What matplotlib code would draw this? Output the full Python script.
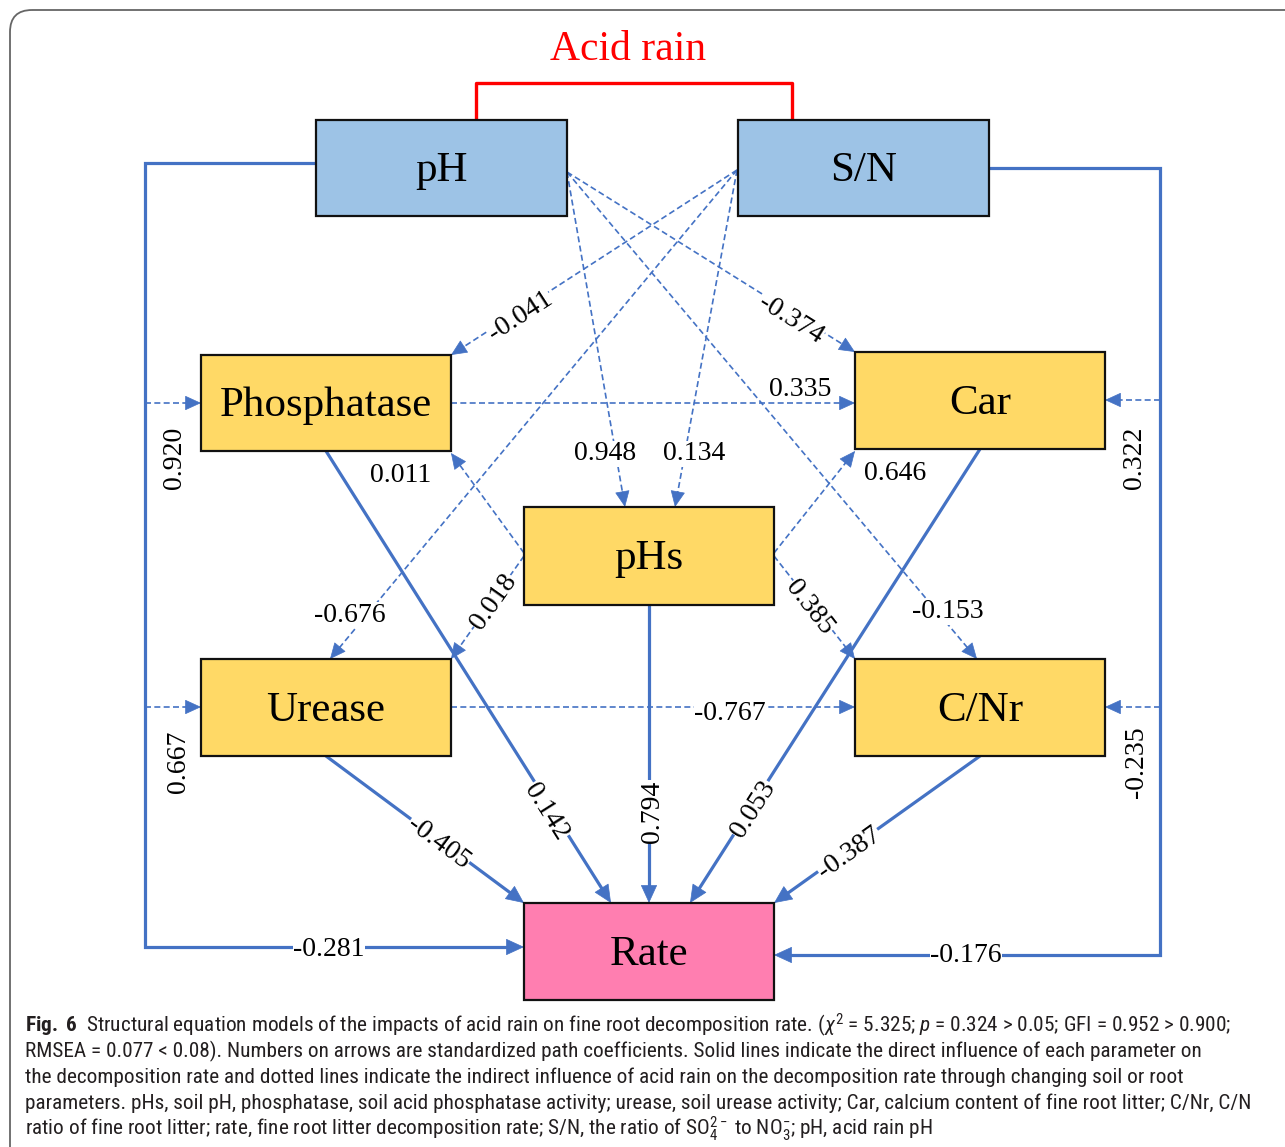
import numpy as np
import matplotlib
matplotlib.use('Agg')
import matplotlib.pyplot as plt
from matplotlib import font_manager
from matplotlib.patches import Rectangle, FancyBboxPatch, FancyArrowPatch


# Nodes of the structural equation model
node_names = ['pH', 'S/N', 'Phosphatase', 'Car', 'pHs', 'Urease', 'C/Nr', 'Rate']
node_group = ['rain', 'rain', 'soil', 'soil', 'soil', 'soil', 'soil', 'rate']

# Paths: source, target, standardized coefficient, direct (solid) or indirect (dashed)
path_from = ['pH', 'S/N', 'pH', 'pH', 'S/N', 'S/N', 'pH', 'S/N', 'pH', 'pH', 'S/N', 'S/N',
             'Phosphatase', 'Urease', 'pHs', 'pHs', 'pHs', 'pHs',
             'Phosphatase', 'Urease', 'pHs', 'Car', 'C/Nr']
path_to = ['Rate', 'Rate', 'Phosphatase', 'Urease', 'Car', 'C/Nr', 'pHs', 'pHs', 'Car', 'C/Nr',
           'Phosphatase', 'Urease',
           'Car', 'C/Nr', 'Phosphatase', 'Urease', 'Car', 'C/Nr',
           'Rate', 'Rate', 'Rate', 'Rate', 'Rate']
path_coef = [-0.281, -0.176, 0.920, 0.667, 0.322, -0.235, 0.948, 0.134, -0.374, -0.153,
             -0.041, -0.676,
             0.335, -0.767, 0.011, 0.018, 0.646, 0.385,
             0.142, -0.405, 0.794, 0.053, -0.387]
path_direct = [True, True] + [False] * 16 + [True] * 5

title_text = 'Acid rain'
caption_lines = [
    r'$\mathbf{Fig.\ 6}$  Structural equation models of the impacts of acid rain on fine root '
    r'decomposition rate. ($\chi^2$ = 5.325; $p$ = 0.324 > 0.05; GFI = 0.952 > 0.900;',
    'RMSEA = 0.077 < 0.08). Numbers on arrows are standardized path coefficients. Solid lines '
    'indicate the direct influence of each parameter on',
    'the decomposition rate and dotted lines indicate the indirect influence of acid rain on the '
    'decomposition rate through changing soil or root',
    'parameters. pHs, soil pH, phosphatase, soil acid phosphatase activity; urease, soil urease '
    'activity; Car, calcium content of fine root litter; C/Nr, C/N',
    r'ratio of fine root litter; rate, fine root litter decomposition rate; S/N, the ratio of '
    r'SO$_4^{2-}$ to NO$_3^{-}$; pH, acid rain pH',
]

# Layout (pixel coordinates, y grows downward)
node_box = {
    'pH': (316, 120, 567, 216),
    'S/N': (738, 120, 989, 216),
    'Phosphatase': (201, 355, 451, 451),
    'Car': (855, 352, 1105, 449),
    'pHs': (524, 507, 774, 605),
    'Urease': (201, 659, 451, 756),
    'C/Nr': (855, 659, 1105, 756),
    'Rate': (524, 903, 774, 1000),
}
group_color = {'rain': '#9DC3E6', 'soil': '#FFD966', 'rate': '#FF7EB0'}

routes = {
    ('pH', 'Rate'): [(316, 163), (145, 163), (145, 947), (524, 947)],
    ('S/N', 'Rate'): [(989, 168), (1160, 168), (1160, 955), (774, 955)],
    ('pH', 'Phosphatase'): [(145, 403), (201, 403)],
    ('pH', 'Urease'): [(145, 707), (201, 707)],
    ('S/N', 'Car'): [(1160, 400), (1105, 400)],
    ('S/N', 'C/Nr'): [(1160, 707), (1105, 707)],
    ('pH', 'pHs'): [(567, 172), (625, 507)],
    ('S/N', 'pHs'): [(737, 170), (675, 507)],
    ('pH', 'Car'): [(567, 172), (855, 352)],
    ('pH', 'C/Nr'): [(567, 172), (977, 659)],
    ('S/N', 'Phosphatase'): [(737, 170), (451, 355)],
    ('S/N', 'Urease'): [(737, 170), (330, 659)],
    ('Phosphatase', 'Car'): [(451, 403), (855, 403)],
    ('Urease', 'C/Nr'): [(451, 707), (855, 707)],
    ('pHs', 'Phosphatase'): [(524, 553), (451, 453)],
    ('pHs', 'Urease'): [(524, 556), (451, 659)],
    ('pHs', 'Car'): [(774, 553), (855, 451)],
    ('pHs', 'C/Nr'): [(774, 556), (855, 659)],
    ('Phosphatase', 'Rate'): [(326, 451), (611, 903)],
    ('Urease', 'Rate'): [(326, 756), (524, 903)],
    ('pHs', 'Rate'): [(649, 605), (649, 903)],
    ('Car', 'Rate'): [(980, 449), (690, 903)],
    ('C/Nr', 'Rate'): [(980, 756), (774, 903)],
}

# label x, y, rotation ('line' = along the path), white background
label_pos = {
    ('pH', 'Rate'): (329, 946, 0, True),
    ('S/N', 'Rate'): (966, 953, 0, True),
    ('pH', 'Phosphatase'): (172, 458, 90, False),
    ('pH', 'Urease'): (175, 762, 90, False),
    ('S/N', 'Car'): (1132, 458, 90, False),
    ('S/N', 'C/Nr'): (1134, 762, 90, False),
    ('pH', 'pHs'): (605, 451, 0, True),
    ('S/N', 'pHs'): (694, 451, 0, True),
    ('pH', 'Car'): (792, 317, 'line', True),
    ('pH', 'C/Nr'): (948, 609, 0, True),
    ('S/N', 'Phosphatase'): (519, 314, 'line', True),
    ('S/N', 'Urease'): (350, 612, 0, True),
    ('Phosphatase', 'Car'): (800, 386, 0, False),
    ('Urease', 'C/Nr'): (730, 711, 0, True),
    ('pHs', 'Phosphatase'): (401, 472, 0, False),
    ('pHs', 'Urease'): (491, 600, 'line', True),
    ('pHs', 'Car'): (895, 470, 0, False),
    ('pHs', 'C/Nr'): (812, 606, 'line', True),
    ('Phosphatase', 'Rate'): (549, 810, 'line', True),
    ('Urease', 'Rate'): (440, 841, 'line', True),
    ('pHs', 'Rate'): (649, 812, 90, True),
    ('Car', 'Rate'): (751, 808, 'line', True),
    ('C/Nr', 'Rate'): (848, 851, 'line', True),
}

LINE_BLUE = '#4472C4'
SERIF = 'Liberation Serif'


# Arrow head at the end of a path
def draw_head(ax, p0, p1, solid):
    p0 = np.array(p0, float)
    p1 = np.array(p1, float)
    u = (p1 - p0) / np.linalg.norm(p1 - p0)
    hl, hw = (12, 5.5) if solid else (10.5, 4.8)
    arrow = FancyArrowPatch(posA=p1 - u * hl * 1.5, posB=p1,
                            arrowstyle=f'-|>,head_length={hl},head_width={hw}',
                            mutation_scale=1, color=LINE_BLUE, lw=0.5,
                            shrinkA=0, shrinkB=0, zorder=3)
    ax.add_patch(arrow)


# One path: line, arrow head, coefficient label
def draw_path(ax, src, dst, coef, direct):
    pts = np.array(routes[(src, dst)], float)
    u = pts[-1] - pts[-2]
    u /= np.linalg.norm(u)
    line_pts = pts.copy()
    line_pts[-1] = pts[-1] - u * 8
    if direct:
        ax.plot(line_pts[:, 0], line_pts[:, 1], color=LINE_BLUE, lw=2.3,
                solid_joinstyle='miter', zorder=2)
    else:
        ax.plot(line_pts[:, 0], line_pts[:, 1], color=LINE_BLUE, lw=1.2,
                dashes=(3.6, 2.0), zorder=2)
    draw_head(ax, pts[-2], pts[-1], direct)

    x, y, rot, bg = label_pos[(src, dst)]
    if rot == 'line':
        a, b = pts[0], pts[-1]
        rot = np.degrees(np.arctan2(-(b[1] - a[1]), b[0] - a[0]))
        if rot > 90:
            rot -= 180
        elif rot < -90:
            rot += 180
    box = dict(boxstyle='square,pad=0.02', fc='white', ec='none') if bg else None
    ax.text(x, y, f'{coef:.3f}', fontsize=20, family=SERIF, ha='center',
            va='center_baseline', rotation=rot, rotation_mode='anchor', bbox=box, zorder=5)


def pick_caption_font():
    available = {f.name for f in font_manager.fontManager.ttflist}
    for name in ['Liberation Sans Narrow', 'Roboto Condensed', 'Noto Sans Condensed',
                 'DejaVu Sans Condensed', 'Open Sans']:
        if name in available:
            return name
    return 'DejaVu Sans'


def main():
    cap_font = pick_caption_font()
    plt.rcParams['mathtext.fontset'] = 'custom'
    plt.rcParams['mathtext.rm'] = cap_font
    plt.rcParams['mathtext.it'] = cap_font + ':italic'
    plt.rcParams['mathtext.bf'] = cap_font + ':bold'

    fig = plt.figure(figsize=(12.85, 11.47), dpi=100)
    ax = fig.add_axes([0, 0, 1, 1])
    ax.set_xlim(0, 1285)
    ax.set_ylim(1147, 0)
    ax.axis('off')

    # Outer rounded frame
    frame = FancyBboxPatch((10, 10), 1320, 1180, boxstyle='round,pad=0,rounding_size=22',
                           fc='none', ec='#666666', lw=1.3, zorder=0)
    ax.add_patch(frame)

    # Acid rain bracket
    ax.plot([476, 476, 792, 792], [120, 83, 83, 120], color='#FF0000', lw=2.4,
            solid_joinstyle='round', zorder=2)
    ax.text(628, 45, title_text, fontsize=30, family=SERIF, color='#FF0000',
            ha='center', va='center_baseline')

    # Paths
    for src, dst, coef, direct in zip(path_from, path_to, path_coef, path_direct):
        draw_path(ax, src, dst, coef, direct)

    # Node boxes
    for name, group in zip(node_names, node_group):
        x0, y0, x1, y1 = node_box[name]
        ax.add_patch(Rectangle((x0, y0), x1 - x0, y1 - y0, fc=group_color[group],
                               ec='#111111', lw=1.6, zorder=4))
        ax.text((x0 + x1) / 2, (y0 + y1) / 2 + 3, name, fontsize=31, family=SERIF,
                ha='center', va='center', zorder=5)

    # Caption, sized so the first line spans the same width as in the figure
    texts = []
    for i, line in enumerate(caption_lines):
        t = ax.text(25, 1025 + 26 * i, line, fontsize=14, family=cap_font,
                    color='#231F20', ha='left', va='center')
        texts.append(t)
    renderer = fig.canvas.get_renderer()
    width = texts[0].get_window_extent(renderer).width
    size = 14 * 1212 / width
    for t in texts:
        t.set_fontsize(size)

    fig.savefig('out.png', dpi=100)


if __name__ == '__main__':
    main()
